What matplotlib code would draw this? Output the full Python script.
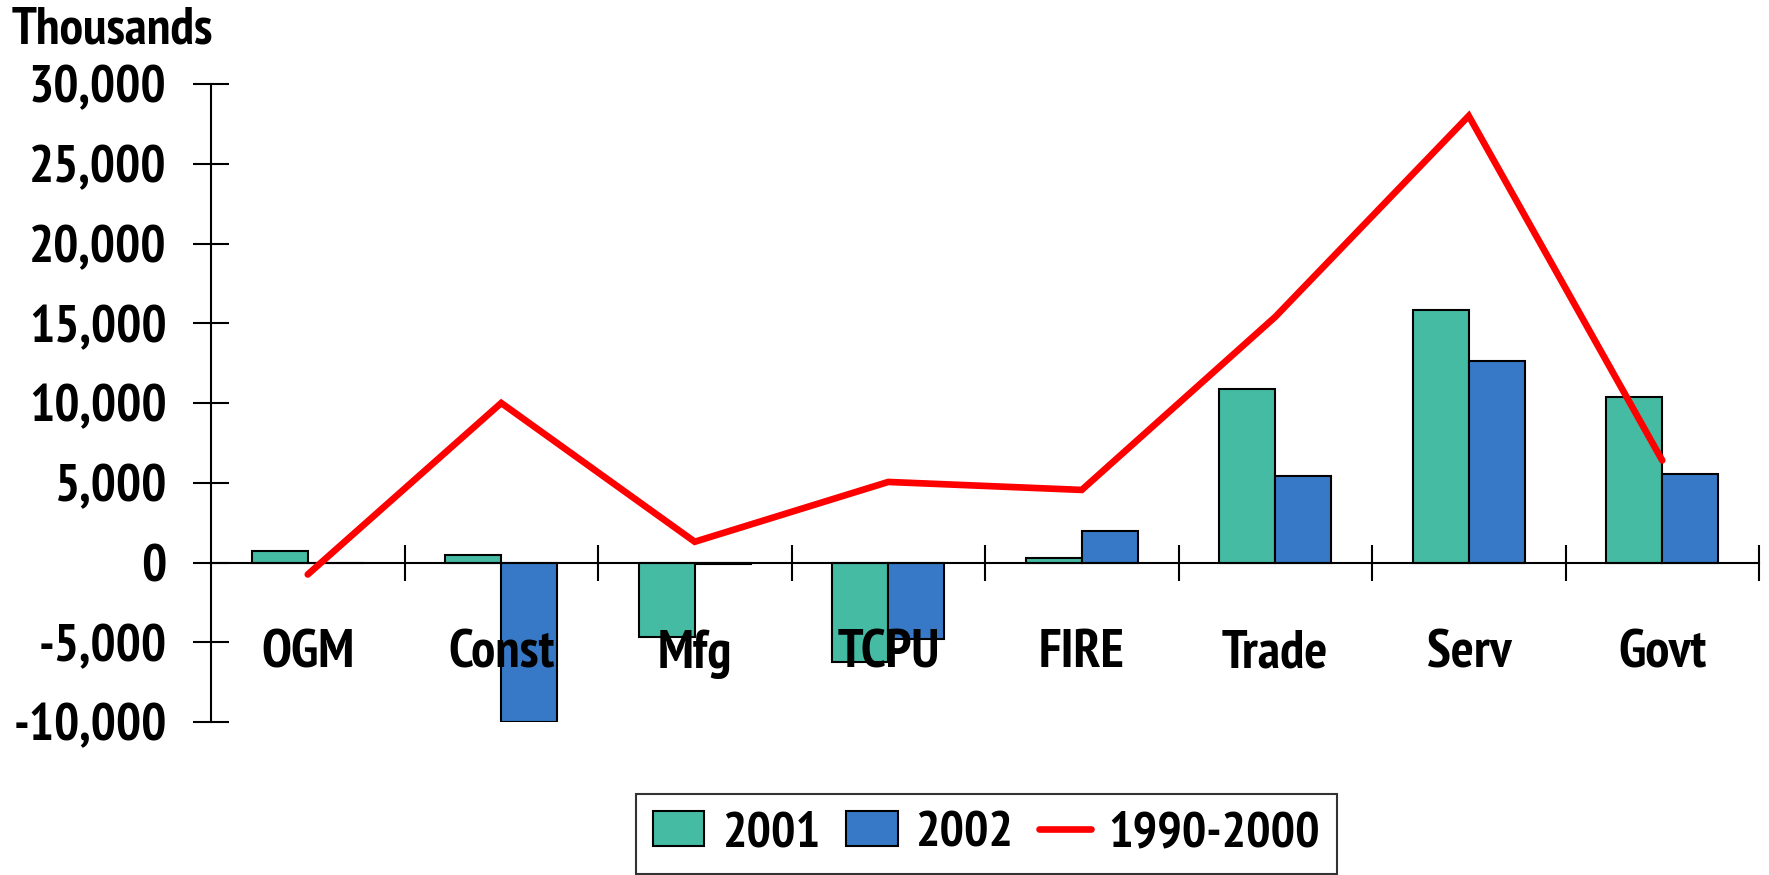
import matplotlib
matplotlib.use("Agg")
import matplotlib.pyplot as plt
from matplotlib.ticker import FuncFormatter, FixedLocator
from matplotlib.lines import Line2D
from matplotlib.patches import Patch
import numpy as np

categories = ["OGM", "Const", "Mfg", "TCPU", "FIRE", "Trade", "Serv", "Govt"]
vals_2001 = [700, 450, -4700, -6250, 280, 10850, 15800, 10400]
vals_2002 = [0, -10000, -120, -4800, 2000, 5400, 12650, 5550]
vals_1990_2000 = [-750, 10000, 1300, 5050, 4550, 15400, 28000, 6400]
yticks = [-10000, -5000, 0, 5000, 10000, 15000, 20000, 25000, 30000]

c2001 = "#45BBA4"
c2002 = "#3779C6"
cline = "#FF0000"

plt.rcParams['font.family'] = ['PT Sans Narrow', 'Liberation Sans', 'DejaVu Sans']
plt.rcParams['font.weight'] = 'bold'

W, H = 1769, 875
fig = plt.figure(figsize=(W / 100, H / 100), dpi=100)
left, right, top, bottom = 211, 1759, 84, 722
ax = fig.add_axes([left / W, 1 - bottom / H, (right - left) / W, (bottom - top) / H])

x = np.arange(len(categories))
bw = 0.29
ax.bar(x - bw / 2, vals_2001, width=bw, color=c2001, edgecolor="black", linewidth=1.5, zorder=1, label="2001")
ax.bar(x + bw / 2, vals_2002, width=bw, color=c2002, edgecolor="black", linewidth=1.5, zorder=1, label="2002")
ax.plot(x, vals_1990_2000, color=cline, linewidth=4.8, solid_capstyle="round", solid_joinstyle="miter", zorder=3, label="1990-2000")

ax.set_xlim(-0.5, len(categories) - 0.5)
ax.set_ylim(-10000, 30000)

for s in ["top", "right"]:
    ax.spines[s].set_visible(False)
ax.spines["bottom"].set_position(("data", 0))
ax.spines["bottom"].set_linewidth(1.5)
ax.spines["left"].set_linewidth(1.5)

ax.set_yticks(yticks)
ax.yaxis.set_major_formatter(FuncFormatter(lambda v, p: f"{int(v):,}"))
ax.tick_params(axis="y", direction="inout", length=26, width=1.5, pad=19, labelsize=38)

ax.set_xticks(x)
ax.set_xticklabels(categories)
ax.xaxis.set_minor_locator(FixedLocator(np.arange(0.5, len(categories), 1.0)))
ax.tick_params(axis="x", which="major", length=0, pad=48, labelsize=39)
ax.tick_params(axis="x", which="minor", direction="inout", length=26, width=1.5)

for lab in ax.get_xticklabels() + ax.get_yticklabels():
    lab.set_fontweight("bold")

fig.text(12 / W, 1 - 43 / H, "Thousands", fontsize=38, fontweight="bold", va="baseline", ha="left")

handles = [Patch(facecolor=c2001, edgecolor="black", linewidth=1.5),
           Patch(facecolor=c2002, edgecolor="black", linewidth=1.5),
           Line2D([0], [0], color=cline, linewidth=4.8, solid_capstyle="round")]
leg = fig.legend(handles, ["2001", "2002", "1990-2000"], loc="upper left",
                 bbox_to_anchor=(636 / W, 1 - 794 / H), ncol=3, frameon=True, fancybox=False,
                 fontsize=37, handlelength=1.0, handleheight=0.68, handletextpad=0.35,
                 columnspacing=0.5, borderpad=0.33, borderaxespad=0.0)
leg.get_frame().set_edgecolor("black")
leg.get_frame().set_linewidth(1.5)
for t in leg.get_texts():
    t.set_fontweight("bold")

fig.savefig("out.png", dpi=100)
